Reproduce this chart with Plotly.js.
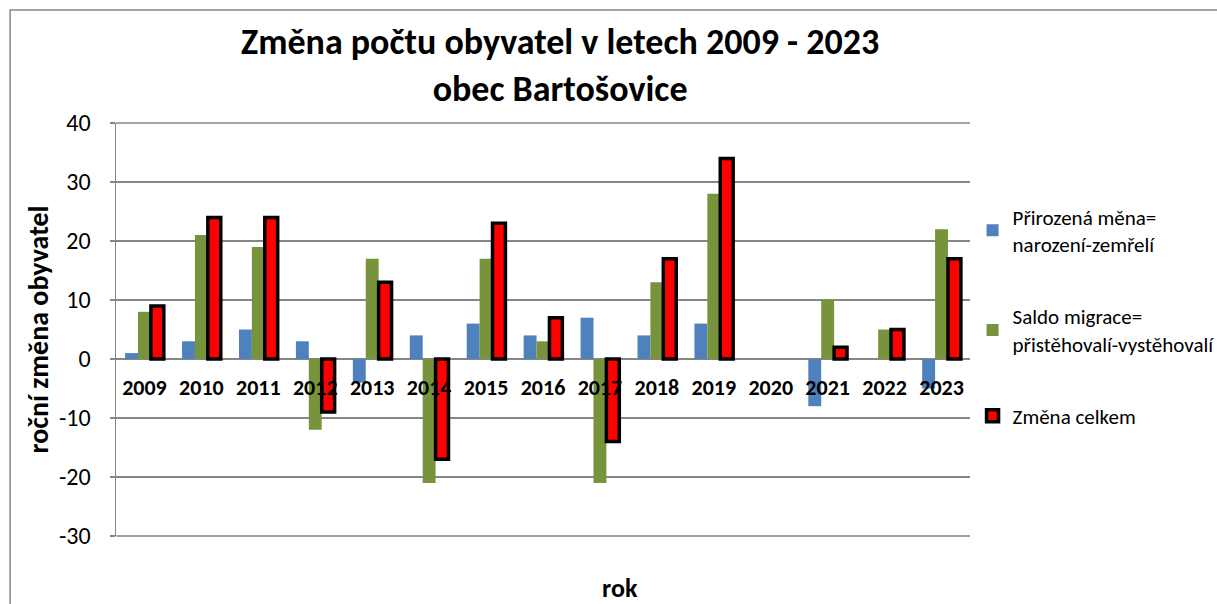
<!DOCTYPE html>
<html>
<head>
<meta charset="utf-8">
<script src="https://cdn.plot.ly/plotly-3.0.1.min.js"></script>
<style>
  body { margin: 0; background: #fff; }
  #chart { width: 1217px; height: 604px; }
</style>
</head>
<body>
<div id="chart"></div>
<script>
// Data
let years     = ["2009","2010","2011","2012","2013","2014","2015","2016","2017","2018","2019","2020","2021","2022","2023"]
let natural   = [1, 3, 5, 3, -4, 4, 6, 4, 7, 4, 6, 0, -8, 0, -5]
let migration = [8, 21, 19, -12, 17, -21, 17, 3, -21, 13, 28, 0, 10, 5, 22]
let total     = [9, 24, 24, -9, 13, -17, 23, 7, -14, 17, 34, 0, 2, 5, 17]

let yTicks     = [-30, -20, -10, 0, 10, 20, 30, 40]
let yTickText  = ["-30", "-20", "-10", "0", "10", "20", "30", "40"]

let seriesNames = ["Přirozená měna=<br>narození-zemřelí", "Saldo migrace=<br>přistěhovalí-vystěhovalí", "Změna celkem"]

let font = "Calibri, Carlito, 'Open Sans', sans-serif"
let gray = '#868686'

// no outline on a zero-height bar (Excel draws nothing there)
let outlineWidths = total.map(v => v === 0 ? 0 : 3.5)

let traces = [
    {
        x: years, y: natural, type: 'bar', name: seriesNames[0],
        marker: { color: '#4f81bd' }, legendgroup: 'a'
    },
    {
        x: years, y: migration, type: 'bar', name: seriesNames[1],
        marker: { color: '#77933c' }, legendgroup: 'b'
    },
    {
        x: years, y: total, type: 'bar', name: seriesNames[2],
        marker: { color: '#ff0000', line: { color: '#000000', width: outlineWidths } }, legendgroup: 'c'
    }
];

let layout = {
    width: 1217,
    height: 604,
    margin: { l: 116, r: 247, t: 123, b: 68, autoexpand: false },
    paper_bgcolor: '#ffffff',
    plot_bgcolor: '#ffffff',
    font: { family: font, color: '#000000' },
    barmode: 'group',
    bargap: 0.32,
    bargroupgap: 0,
    showlegend: true,
    title: {
        text: '<b>Změna počtu obyvatel v letech 2009 - 2023<br>obec Bartošovice</b>',
        font: { size: 36, family: font, color: '#000000' },
        x: 0.52, xref: 'paper', xanchor: 'center',
        yref: 'container', y: 0.91, yanchor: 'top'
    },
    xaxis: {
        type: 'category',
        anchor: 'free',
        position: 3 / 7,
        showline: false,
        ticks: '',
        ticklabelstandoff: 13,
        tickfont: { size: 22, family: font, color: '#000000', weight: 'bold' },
        showgrid: false,
        zeroline: false
    },
    yaxis: {
        range: [-30, 40],
        tickvals: yTicks,
        ticktext: yTickText,
        showline: true,
        linecolor: gray,
        linewidth: 1.5,
        showgrid: true,
        gridcolor: gray,
        gridwidth: 1.5,
        zeroline: true,
        zerolinecolor: gray,
        zerolinewidth: 1.5,
        ticks: 'outside',
        ticklen: 5,
        tickwidth: 1.5,
        tickcolor: gray,
        ticklabelstandoff: 14,
        tickfont: { size: 24, family: font, color: '#000000' },
        title: {
            text: '<b>roční změna obyvatel</b>',
            font: { size: 28, family: font, color: '#000000' },
            standoff: 2
        }
    },
    legend: {
        x: 1.003, xanchor: 'left',
        y: 0.822, yanchor: 'top',
        tracegroupgap: 42,
        font: { size: 21, family: font, color: '#000000' },
        itemwidth: 30
    },
    annotations: [
        {
            text: '<b>rok</b>', xref: 'paper', yref: 'paper',
            x: 0.59, y: -0.126, yanchor: 'middle', showarrow: false,
            font: { size: 26, family: font, color: '#000000' }
        }
    ],
    shapes: [
        {
            type: 'rect', xref: 'paper', yref: 'paper',
            x0: -0.124, x1: 1.4, y0: -0.3, y1: 1.2736,
            line: { color: gray, width: 1.5 }, layer: 'below'
        },
        {
            type: 'line', xref: 'paper', yref: 'paper',
            x0: 0, x1: 1, y0: 0, y1: 0,
            line: { color: gray, width: 1.5 }
        },
        {
            type: 'line', xref: 'paper', yref: 'paper',
            x0: 0, x1: 1, y0: 1, y1: 1,
            line: { color: gray, width: 1.5 }
        }
    ]
};

Plotly.newPlot('chart', traces, layout, { displayModeBar: false, staticPlot: true });
</script>
</body>
</html>
